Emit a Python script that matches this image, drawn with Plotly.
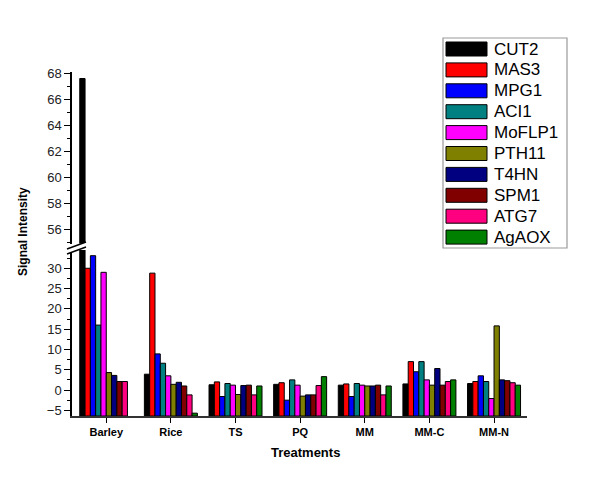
import plotly.graph_objects as go

treatments = ["Barley", "Rice", "TS", "PQ", "MM", "MM-C", "MM-N"]
genes = ["CUT2", "MAS3", "MPG1", "ACI1", "MoFLP1", "PTH11", "T4HN", "SPM1", "ATG7", "AgAOX"]
colors = ["#000000", "#FF0000", "#0000FF", "#008080", "#FF00FF",
          "#808000", "#000080", "#800000", "#FF0080", "#008000"]

CUT2 = [67.6, 3.9, 1.3, 1.4, 1.2, 1.5, 1.6]
MAS3 = [30.0, 28.8, 2.0, 1.8, 1.5, 7.0, 2.1]
MPG1 = [33.1, 8.9, -1.6, -2.5, -1.6, 4.5, 3.5]
ACI1 = [16.0, 6.6, 1.6, 2.5, 1.6, 7.0, 2.1]
MoFLP1 = [29.0, 3.5, 1.2, 1.2, 1.2, 2.5, -2.1]
PTH11 = [4.3, 1.4, -1.1, -1.5, 1.0, 1.2, 15.8]
T4HN = [3.6, 1.9, 1.1, -1.2, 1.0, 5.3, 2.5]
SPM1 = [2.1, 1.0, 1.2, -1.2, 1.2, 1.2, 2.3]
ATG7 = [2.1, -1.2, -1.2, 1.1, -1.2, 2.1, 1.8]
AgAOX = [None, -5.7, 1.0, 3.3, 1.0, 2.5, 1.2]
series = [CUT2, MAS3, MPG1, ACI1, MoFLP1, PTH11, T4HN, SPM1, ATG7, AgAOX]

low_range = [-6.4, 34.5]
high_range = [54.9, 68.1]
BASE = low_range[0]  # bars start at the bottom of the axis

FONT = "Liberation Sans, Arial, sans-serif"

# page has an 8px body margin; work in page pixels and convert
OFF = 8
FW, FH = 600 - OFF, 480 - OFF
L, R, T, B = 72, 527, 72, 416  # plot area in page pixels
W, H = R - L, B - T


def px(x):
    return (x - L) / W


def py(y):
    return (B - y) / H


fig = go.Figure()
for axis in ("y", "y2"):
    for name, vals, col in zip(genes, series, colors):
        fig.add_trace(go.Bar(
            x=treatments,
            y=[None if v is None else v - BASE for v in vals],
            base=BASE,
            name=name,
            marker=dict(color=col, line=dict(color="black", width=1)),
            yaxis=axis,
            showlegend=False,
        ))

axis_common = dict(
    showline=True, linecolor="black", linewidth=1.5,
    ticks="outside", ticklen=6, tickwidth=1.2, tickcolor="black",
    showgrid=False, zeroline=False,
    tickfont=dict(family=FONT, size=13, color="#222"),
)

annotations = [
    dict(text="<b>Signal Intensity</b>", textangle=-90, xref="paper", yref="paper",
         x=px(23), y=py(232), xanchor="center", yanchor="middle", showarrow=False,
         font=dict(family=FONT, size=12, color="black")),
    dict(text="<b>Treatments</b>", xref="paper", yref="paper",
         x=px(305), y=py(452), xanchor="center", yanchor="middle", showarrow=False,
         font=dict(family=FONT, size=13, color="black")),
]

shapes = [
    # axis break marks
    dict(type="path", xref="paper", yref="paper",
         path=f"M {px(67)},{py(249)} L {px(86)},{py(242)} L {px(86)},{py(247)} L {px(67)},{py(254)} Z",
         fillcolor="white", line=dict(width=0)),
    dict(type="line", xref="paper", yref="paper",
         x0=px(67), y0=py(249), x1=px(86), y1=py(242), line=dict(color="black", width=1.5)),
    dict(type="line", xref="paper", yref="paper",
         x0=px(67), y0=py(254), x1=px(86), y1=py(247), line=dict(color="black", width=1.5)),
    # legend box
    dict(type="rect", xref="paper", yref="paper",
         x0=px(443), y0=py(248), x1=px(567), y1=py(38),
         fillcolor="white", line=dict(color="#999", width=1.2)),
]

y0, step = 49, 20.9
for i, (name, col) in enumerate(zip(genes, colors)):
    cy = y0 + i * step
    shapes.append(dict(type="rect", xref="paper", yref="paper",
                       x0=px(446), x1=px(487), y0=py(cy + 7), y1=py(cy - 7),
                       fillcolor=col, line=dict(color="black", width=1)))
    annotations.append(dict(text=name, xref="paper", yref="paper",
                            x=px(492), y=py(cy), xanchor="left", yanchor="middle",
                            showarrow=False,
                            font=dict(family=FONT, size=17, color="black")))

fig.update_layout(
    width=FW, height=FH,
    paper_bgcolor="white", plot_bgcolor="white",
    margin=dict(l=L - OFF, r=600 - R, t=T - OFF, b=480 - B),
    barmode="group", bargap=0.18, bargroupgap=0,
    font=dict(family=FONT, color="black"),
    showlegend=False,
    xaxis=dict(
        range=[-0.53, 6.51], showline=True, linecolor="#333", linewidth=1.5,
        ticks="outside", ticklen=5, tickcolor="black", showgrid=False,
        tickfont=dict(family=FONT, size=11, color="black", weight="bold"),
        anchor="y",
    ),
    yaxis=dict(domain=[0, py(250)], range=low_range, dtick=5, tick0=0,
               minor=dict(ticks="outside", ticklen=3, dtick=2.5, tick0=0, tickcolor="black"),
               **axis_common),
    yaxis2=dict(domain=[py(243.5), 1], range=high_range, dtick=2, tick0=0,
                minor=dict(ticks="outside", ticklen=3, dtick=1, tick0=0, tickcolor="black"),
                anchor="x", **axis_common),
    annotations=annotations,
    shapes=shapes,
)

fig.write_html("out.html")
